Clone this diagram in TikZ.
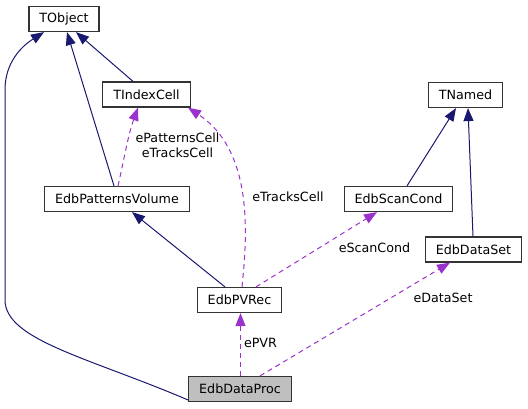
\documentclass[tikz,border=0pt]{standalone}
\usepackage{fontspec}
\setmainfont{DejaVu Sans}
\usetikzlibrary{arrows.meta, positioning}
\definecolor{inherit}{HTML}{191970}
\definecolor{member}{HTML}{9A32CD}
\tikzset{
x=1pt, y=-1pt, % pixel-like units, y grows downwards
>={Triangle[length=13pt, width=10pt]}, % filled arrow heads
every node/.style={font=\fontsize{12.7}{15}\selectfont},
class/.style={draw=black!80, line width=1.2pt, fill=white, minimum height=25pt, inner xsep=10.5pt}, % sets the properties for each class box
derived/.style={->, draw=inherit, line width=1pt}, % base class edges
uses/.style={->, draw=member, line width=1pt, dash pattern=on 5pt off 4pt}, % member edges
}
\begin{document}
\begin{tikzpicture}
    \useasboundingbox (0,0) rectangle (528,408);
    \node[class] (TObject) at (64,19) {TObject};
    \node[class] (TIndexCell) at (146.5,94.5) {TIndexCell};
    \node[class] (TNamed) at (465.5,95) {TNamed};
    \node[class] (PatVol) at (117,199) {EdbPatternsVolume};
    \node[class] (ScanCond) at (398.5,199) {EdbScanCond};
    \node[class] (DataSet) at (473.5,249.5) {EdbDataSet};
    \node[class] (PVRec) at (239.5,300) {EdbPVRec};
    \node[class, fill=black!25] (DataProc) at (240,389) {EdbDataProc};
    % inheritance
    \draw[derived] ([xshift=-13.5pt]TIndexCell.north) -- ([xshift=12pt]TObject.south);
    \draw[derived] ([xshift=-3pt]PatVol.north) -- ([xshift=3pt]TObject.south);
    \draw[derived] ([yshift=-11pt]DataProc.west) .. controls (90,358) and (5,340) .. (5,300)
        -- (5,90) .. controls (5,62) and (22,46) .. ([xshift=-20pt]TObject.south);
    \draw[derived] ([xshift=-14.5pt]PVRec.north) -- ([xshift=15pt]PatVol.south);
    \draw[derived] ([xshift=8.5pt]ScanCond.north) -- ([xshift=-9.5pt]TNamed.south);
    \draw[derived] ([xshift=-0.5pt]DataSet.north) -- ([xshift=2.5pt]TNamed.south);
    % members
    \draw[uses] ([xshift=1pt]PatVol.north) .. controls (124,160) and (128,135) .. ([xshift=-8.5pt]TIndexCell.south);
    \node[align=center] (lblCell) at (177.5,145.5) {ePatternsCell\\eTracksCell};
    \draw[uses] ([xshift=2.5pt]PVRec.north) .. controls (248,230) and (252,150) .. ([xshift=41.5pt]TIndexCell.south);
    \node (lblTracks) at (288,197) {eTracksCell};
    \draw[uses] ([xshift=16.5pt]PVRec.north) -- ([xshift=-21.5pt]ScanCond.south);
    \node (lblScan) at (374.5,248) {eScanCond};
    \draw[uses] ([xshift=0.5pt]DataProc.north) -- ([xshift=1pt]PVRec.south);
    \node (lblPVR) at (260.5,343) {ePVR};
    \draw[uses] ([xshift=20pt]DataProc.north) -- ([xshift=-23.5pt]DataSet.south);
    \node (lblSet) at (443,298) {eDataSet};
\end{tikzpicture}
\end{document}
